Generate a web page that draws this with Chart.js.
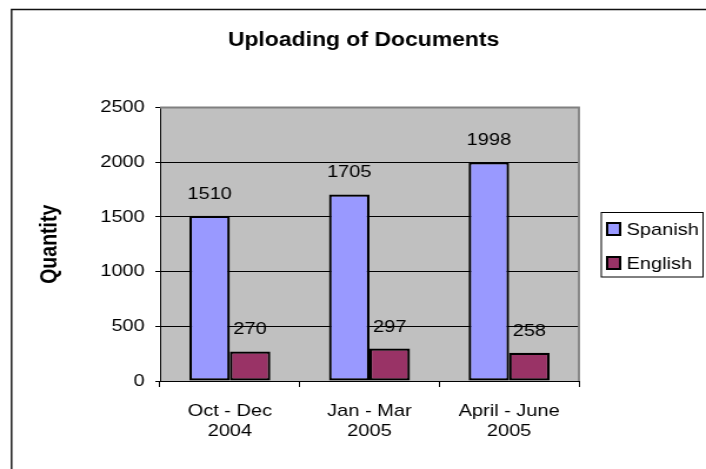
<!DOCTYPE html>
<html>
<head>
<meta charset="utf-8">
<title>Uploading of Documents</title>
<script src="https://cdn.jsdelivr.net/npm/chart.js@4.4.1/dist/chart.umd.min.js"></script>
<style>
  html, body { margin: 0; padding: 0; background: #fff; }
</style>
</head>
<body>
<!-- drawn narrow and stretched wide, like the old spreadsheet export -->
<canvas id="uploads" width="600" height="469" style="width:706px;height:469px"></canvas>
<script>
// quarters on the x axis (two-line labels)
var quarters = [["Oct - Dec", "2004"], ["Jan - Mar", "2005"], ["April - June", "2005"]];
// documents uploaded per quarter
var spanishDocs = [1510, 1705, 1998];
var englishDocs = [270, 297, 258];
// quantity axis
var qtyTicks = [0, 500, 1000, 1500, 2000, 2500];

var FONT = '"Liberation Sans", Arial, sans-serif';

// grey plot background, outer frame and plot border
var frame = {
  id: 'frame',
  beforeDraw: function (chart) {
    var ctx = chart.ctx, a = chart.chartArea;
    ctx.save();
    ctx.fillStyle = '#c0c0c0';
    ctx.fillRect(a.left, a.top, a.right - a.left, a.bottom - a.top);
    ctx.strokeStyle = '#111';
    ctx.lineWidth = 1.4;
    ctx.beginPath();
    ctx.moveTo(9.8, chart.height);
    ctx.lineTo(9.8, 9.5);
    ctx.lineTo(chart.width, 9.5);
    ctx.stroke();
    ctx.restore();
  },
  afterDatasetsDraw: function (chart) {
    var ctx = chart.ctx, a = chart.chartArea;
    ctx.save();
    ctx.strokeStyle = '#808080';
    ctx.lineWidth = 1.8;
    ctx.beginPath();
    ctx.moveTo(a.left, a.top);
    ctx.lineTo(a.right, a.top);
    ctx.lineTo(a.right, a.bottom);
    ctx.stroke();
    ctx.restore();
  }
};

// value above each bar
var barValues = {
  id: 'barValues',
  afterDatasetsDraw: function (chart) {
    var ctx = chart.ctx;
    ctx.save();
    ctx.font = '17px ' + FONT;
    ctx.fillStyle = '#000';
    ctx.textAlign = 'center';
    ctx.textBaseline = 'alphabetic';
    chart.data.datasets.forEach(function (ds, i) {
      chart.getDatasetMeta(i).data.forEach(function (bar, j) {
        ctx.fillText(String(ds.data[j]), bar.x, bar.y - 17);
      });
    });
    ctx.restore();
  }
};

// boxed legend on the right
var sideLegend = {
  id: 'sideLegend',
  afterDraw: function (chart) {
    var ctx = chart.ctx;
    var left = 511, top = 212.5;
    ctx.save();
    ctx.strokeStyle = '#000';
    ctx.lineWidth = 1;
    ctx.strokeRect(left, top, 86.5, 64.5);
    ctx.font = '17px ' + FONT;
    ctx.textBaseline = 'middle';
    chart.data.datasets.forEach(function (ds, i) {
      var cy = top + 16.5 + i * 34;
      ctx.fillStyle = ds.backgroundColor;
      ctx.fillRect(left + 5, cy - 6, 11, 12);
      ctx.lineWidth = 2;
      ctx.strokeStyle = '#000';
      ctx.strokeRect(left + 5, cy - 6, 11, 12);
      ctx.fillStyle = '#000';
      ctx.fillText(ds.label, left + 21.5, cy + 1);
    });
    ctx.restore();
  }
};

new Chart(document.getElementById('uploads'), {
  type: 'bar',
  data: {
    labels: quarters,
    datasets: [{
      label: 'Spanish',
      data: spanishDocs,
      backgroundColor: '#9999ff',
      borderColor: '#000',
      borderWidth: 2.2,
      borderSkipped: false
    }, {
      label: 'English',
      data: englishDocs,
      backgroundColor: '#993366',
      borderColor: '#000',
      borderWidth: 2.2,
      borderSkipped: false
    }]
  },
  options: {
    responsive: false,
    animation: false,
    events: [],
    categoryPercentage: 0.58,
    barPercentage: 1,
    layout: { padding: { left: 18, right: 0, top: 0, bottom: 0 } },
    plugins: {
      legend: { display: false },
      tooltip: { enabled: false },
      title: {
        display: true,
        text: 'Uploading of Documents',
        color: '#000',
        font: { family: FONT, size: 19.5, weight: 'bold', lineHeight: 1.2 },
        padding: { top: 29.3, bottom: 54.8 }
      }
    },
    scales: {
      x: {
        grid: { display: true, drawOnChartArea: false, offset: true, tickLength: 6, color: '#000', lineWidth: 1 },
        border: { display: true, color: '#000', width: 1 },
        ticks: { color: '#000', font: { family: FONT, size: 17, lineHeight: 1.2 }, padding: 13.8, maxRotation: 0, autoSkip: false },
        afterFit: function (s) { s.height = 88; }
      },
      y: {
        min: qtyTicks[0],
        max: qtyTicks[qtyTicks.length - 1],
        afterBuildTicks: function (s) { s.ticks = qtyTicks.map(function (v) { return { value: v }; }); },
        grid: {
          color: function (c) { return c.tick && c.tick.value === qtyTicks[qtyTicks.length - 1] ? '#808080' : '#000'; },
          tickColor: '#000',
          tickLength: 4,
          lineWidth: 1
        },
        border: { display: true, color: '#000', width: 1 },
        ticks: {
          color: '#000',
          font: { family: FONT, size: 17 },
          padding: 9,
          callback: function (v) { return String(v); }
        },
        title: {
          display: true,
          text: 'Quantity',
          color: '#000',
          font: { family: FONT, size: 19.5, weight: 'bold', lineHeight: 1.2 },
          padding: { top: 12.8, bottom: 0 }
        },
        afterFit: function (s) { s.width = 118; }
      },
      // empty right-hand band that keeps room for the legend
      side: {
        type: 'linear',
        position: 'right',
        grid: { display: false },
        border: { display: false },
        ticks: { display: false },
        afterFit: function (s) { s.width = 108; }
      }
    }
  },
  plugins: [frame, barValues, sideLegend]
});
</script>
</body>
</html>
